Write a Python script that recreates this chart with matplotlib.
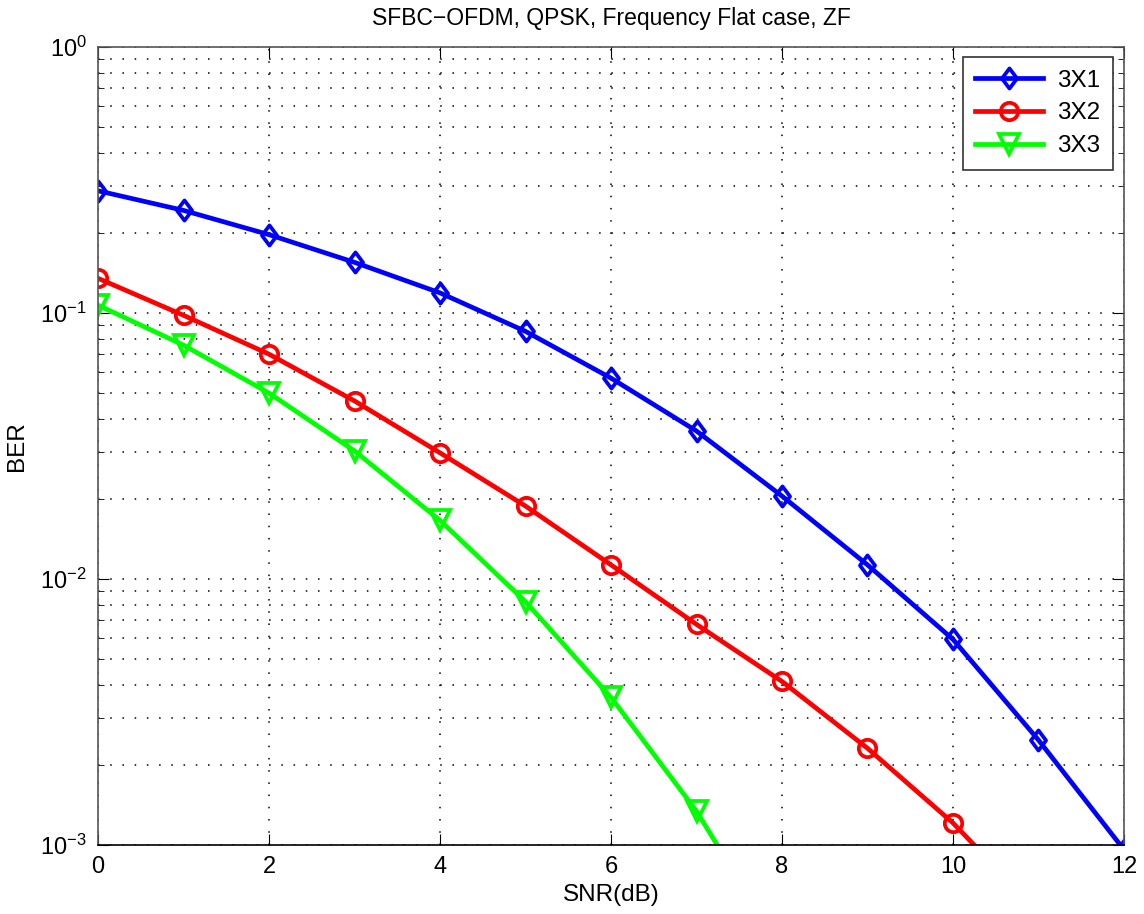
import numpy as np
import matplotlib
matplotlib.use('Agg')
import matplotlib.pyplot as plt
from matplotlib.path import Path
from matplotlib.ticker import LogLocator, NullFormatter

plt.rcParams['font.family'] = ['Liberation Sans', 'DejaVu Sans']

snr_1 = [0, 1, 2, 3, 4, 5, 6, 7, 8, 9, 10, 11, 12]
ber_3x1 = [0.288, 0.243, 0.197, 0.155, 0.119, 0.0853, 0.0569, 0.036, 0.0205,
           0.0113, 0.00593, 0.00248, 0.00096]
snr_2 = [0, 1, 2, 3, 4, 5, 6, 7, 8, 9, 10, 11]
ber_3x2 = [0.135, 0.098, 0.070, 0.0467, 0.0298, 0.0188, 0.0113, 0.00675,
           0.00412, 0.00231, 0.00121, 0.00056]
snr_3 = [0, 1, 2, 3, 4, 5, 6, 7, 8]
ber_3x3 = [0.107, 0.0757, 0.050, 0.0303, 0.0166, 0.00822, 0.00359, 0.00134,
           0.0004]

# matlab-like diamond, a bit taller than wide
diamond = Path([(0, 1), (0.75, 0), (0, -1), (-0.75, 0), (0, 1)],
               [Path.MOVETO, Path.LINETO, Path.LINETO, Path.LINETO, Path.CLOSEPOLY])

fig = plt.figure(figsize=(11.44, 9.14), dpi=100)
ax = fig.add_axes([0.0857, 0.0755, 0.8968, 0.8731])

style = dict(linewidth=3.4, markeredgewidth=2.7, markerfacecolor='none')
ax.semilogy(snr_1, ber_3x1, color='#0000ff', marker=diamond, markersize=14.5,
            label='3X1', **style)
ax.semilogy(snr_2, ber_3x2, color='#ff0000', marker='o', markersize=12.5,
            label='3X2', **style)
ax.semilogy(snr_3, ber_3x3, color='#00ff00', marker='v', markersize=14,
            label='3X3', **style)

ax.set_xlim(0, 12)
ax.set_ylim(1e-3, 1)
ax.set_xticks(range(0, 13, 2))
ax.yaxis.set_major_locator(LogLocator(base=10, numticks=10))
ax.yaxis.set_minor_locator(LogLocator(base=10, subs=np.arange(2, 10), numticks=20))
ax.yaxis.set_minor_formatter(NullFormatter())

dots = (0, (1, 7))
ax.grid(True, which='major', linestyle=dots, color='black', linewidth=1.1)
ax.grid(True, which='minor', axis='y', linestyle=dots, color='black', linewidth=1.1)
ax.tick_params(which='both', direction='in', top=True, right=True,
               labelsize=17, pad=8)
ax.tick_params(which='major', length=8)
ax.tick_params(which='minor', length=4)
for s in ax.spines.values():
    s.set_color('#555555')
    s.set_linewidth(1.2)
ax.spines['bottom'].set_color('black')

ax.set_xlabel('SNR(dB)', fontsize=17.5, labelpad=4)
ax.set_ylabel('BER', fontsize=17.5, labelpad=9)
ax.set_title('SFBC\u2212OFDM, QPSK, Frequency Flat case, ZF', fontsize=16.5, pad=16)

leg = ax.legend(loc='upper right', fontsize=17.5, fancybox=False, framealpha=1,
                edgecolor='#333333', handlelength=2.8, handletextpad=0.6,
                borderpad=0.5, labelspacing=0.45, borderaxespad=0,
                bbox_to_anchor=(0.989, 0.987))
leg.get_frame().set_linewidth(1.2)

fig.savefig('out.png', dpi=100)
